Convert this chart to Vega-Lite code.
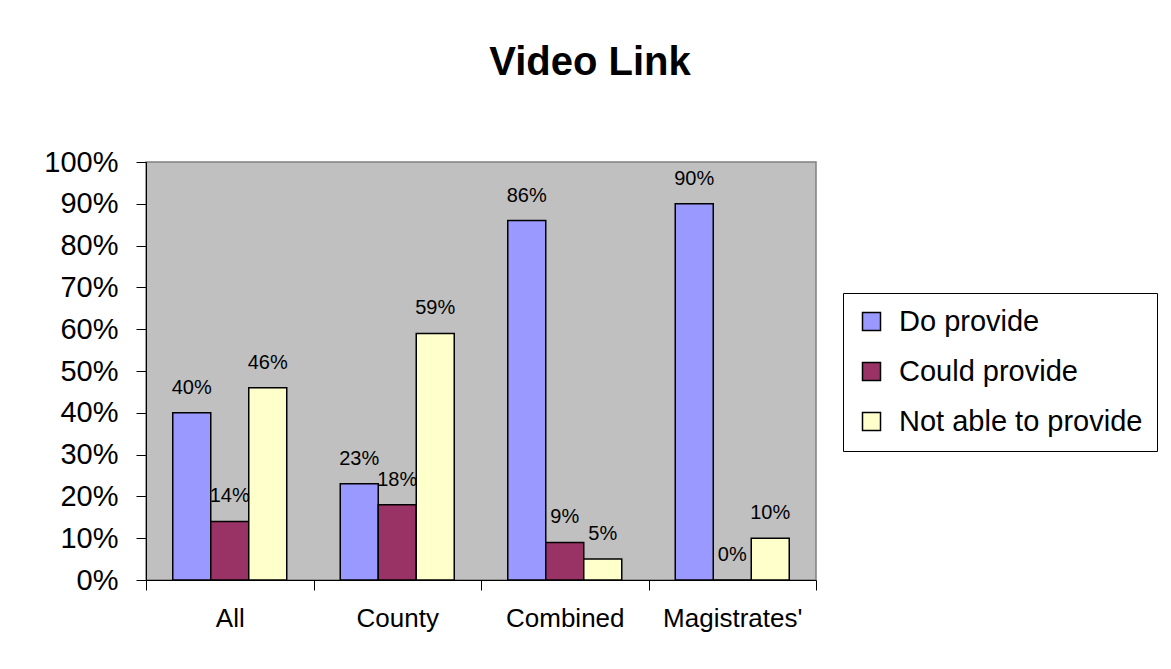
{
  "$schema": "https://vega.github.io/schema/vega-lite/v6.json",
  "width": 670,
  "height": 418,
  "autosize": {"type": "none"},
  "padding": {"left": 146, "top": 162, "right": 355, "bottom": 89},
  "background": "white",
  "title": {
    "text": "Video Link",
    "font": "Liberation Sans",
    "fontSize": 40,
    "fontWeight": "bold",
    "anchor": "middle",
    "dx": 109,
    "offset": 33,
    "baseline": "alphabetic",
    "color": "black"
  },
  "data": {
    "values": [
      {"court": "All", "response": "Do provide", "value": 0.40},
      {"court": "All", "response": "Could provide", "value": 0.14},
      {"court": "All", "response": "Not able to provide", "value": 0.46},
      {"court": "County", "response": "Do provide", "value": 0.23},
      {"court": "County", "response": "Could provide", "value": 0.18},
      {"court": "County", "response": "Not able to provide", "value": 0.59},
      {"court": "Combined", "response": "Do provide", "value": 0.86},
      {"court": "Combined", "response": "Could provide", "value": 0.09},
      {"court": "Combined", "response": "Not able to provide", "value": 0.05},
      {"court": "Magistrates'", "response": "Do provide", "value": 0.90},
      {"court": "Magistrates'", "response": "Could provide", "value": 0.0},
      {"court": "Magistrates'", "response": "Not able to provide", "value": 0.10}
    ]
  },
  "encoding": {
    "x": {
      "field": "court",
      "type": "nominal",
      "sort": ["All", "County", "Combined", "Magistrates'"],
      "scale": {"paddingInner": 0, "paddingOuter": 0},
      "axis": {
        "title": null,
        "labelAngle": 0,
        "labelFont": "Liberation Sans",
        "labelFontSize": 26,
        "labelColor": "black",
        "labelPadding": 15,
        "tickBand": "extent",
        "tickSize": 10,
        "tickColor": "black",
        "domainColor": "black",
        "tickWidth": 1,
        "domainWidth": 1
      }
    },
    "xOffset": {
      "field": "response",
      "type": "nominal",
      "sort": ["Do provide", "Could provide", "Not able to provide"],
      "scale": {"paddingInner": 0, "paddingOuter": 0.704}
    },
    "y": {
      "field": "value",
      "type": "quantitative",
      "scale": {"domain": [0, 1], "nice": false},
      "axis": {
        "title": null,
        "format": ".0%",
        "values": [0, 0.1, 0.2, 0.3, 0.4, 0.5, 0.6, 0.7, 0.8, 0.9, 1],
        "grid": false,
        "labelFont": "Liberation Sans",
        "labelFontSize": 29,
        "labelColor": "black",
        "labelPadding": 18,
        "tickSize": 10,
        "tickColor": "black",
        "domainColor": "black",
        "tickWidth": 1,
        "domainWidth": 1
      }
    }
  },
  "layer": [
    {
      "mark": {"type": "bar", "stroke": "black", "strokeWidth": 1.5},
      "encoding": {
        "color": {
          "field": "response",
          "type": "nominal",
          "sort": ["Do provide", "Could provide", "Not able to provide"],
          "scale": {
            "domain": ["Do provide", "Could provide", "Not able to provide"],
            "range": ["#9999FF", "#993366", "#FFFFCC"]
          },
          "legend": {
            "title": null,
            "orient": "none",
            "legendX": 697,
            "legendY": 131,
            "strokeColor": "black",
            "fillColor": "white",
            "padding": 14,
            "symbolType": "square",
            "symbolSize": 324,
            "symbolStrokeColor": "black",
            "symbolStrokeWidth": 1.5,
            "symbolOpacity": 1,
            "labelFont": "Liberation Sans",
            "labelFontSize": 29,
            "labelColor": "black",
            "labelOffset": 13,
            "labelLimit": 400,
            "rowPadding": 20
          }
        }
      }
    },
    {
      "mark": {
        "type": "text",
        "dy": -19,
        "baseline": "alphabetic",
        "font": "Liberation Sans",
        "fontSize": 20,
        "color": "black"
      },
      "encoding": {
        "text": {"field": "value", "type": "quantitative", "format": ".0%"}
      }
    }
  ],
  "config": {
    "view": {"fill": "#C0C0C0", "stroke": "#808080", "strokeWidth": 1.5}
  }
}
